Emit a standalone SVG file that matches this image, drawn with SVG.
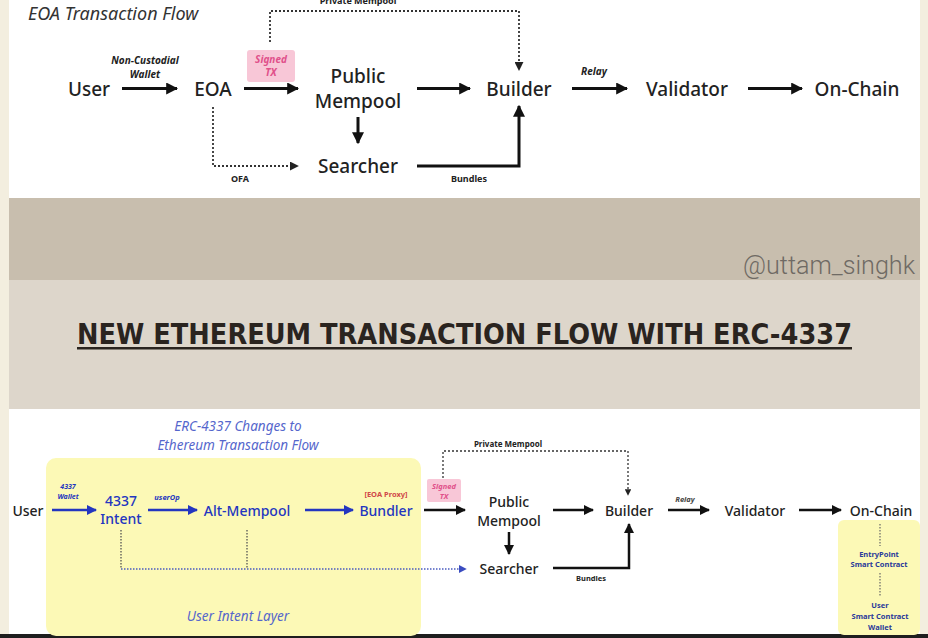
<svg xmlns="http://www.w3.org/2000/svg" width="928" height="638" viewBox="0 0 928 638">
<defs>
<marker id="ah" viewBox="0 0 10 10" refX="9" refY="5" markerWidth="4" markerHeight="4" orient="auto" markerUnits="strokeWidth"><path d="M0,0 L10,5 L0,10 z" fill="#111"/></marker>
<marker id="ahs" viewBox="0 0 10 10" refX="9" refY="5" markerWidth="5" markerHeight="5" orient="auto" markerUnits="strokeWidth"><path d="M0,0 L10,5 L0,10 z" fill="#222"/></marker>
<marker id="ahb" viewBox="0 0 10 10" refX="9" refY="5" markerWidth="4" markerHeight="4" orient="auto" markerUnits="strokeWidth"><path d="M0,0 L10,5 L0,10 z" fill="#2336c0"/></marker>
<marker id="ahbs" viewBox="0 0 10 10" refX="9" refY="5" markerWidth="6" markerHeight="6" orient="auto" markerUnits="strokeWidth"><path d="M0,0 L10,5 L0,10 z" fill="#3a4cc0"/></marker>
</defs>
<style>
.n{font-family:"Noto Sans","Open Sans",sans-serif;font-weight:500;fill:#222;text-anchor:middle}
.big{font-size:19px}
.sm{font-size:14px}
.lab{font-family:"Noto Sans",sans-serif;font-weight:700;fill:#222;text-anchor:middle}
.it{font-style:italic}
.blue{fill:#2336c0}
.a{stroke:#111;fill:none}
.d{stroke:#333;fill:none;stroke-dasharray:2 2}
</style>
<!-- backgrounds -->
<rect x="0" y="0" width="928" height="638" fill="#f3eedf"/>
<rect x="9" y="0" width="911" height="198" fill="#ffffff"/>
<rect x="9" y="198" width="911" height="82" fill="#c8beae"/>
<rect x="9" y="280" width="911" height="129" fill="#ddd6cb"/>
<rect x="9" y="409" width="911" height="226" fill="#ffffff"/>
<rect x="0" y="634" width="928" height="4" fill="#1e1e1e"/>

<!-- TOP: EOA Transaction Flow -->
<text x="28" y="20" font-family="Noto Sans,sans-serif" font-style="italic" font-size="18" fill="#333">EOA Transaction Flow</text>
<g id="connectors-top">
<line class="a" x1="122" y1="88.5" x2="177" y2="88.5" stroke-width="3" marker-end="url(#ah)"/>
<line class="a" x1="244" y1="88.5" x2="298" y2="88.5" stroke-width="3" marker-end="url(#ah)"/>
<line class="a" x1="417" y1="88.5" x2="470" y2="88.5" stroke-width="3" marker-end="url(#ah)"/>
<line class="a" x1="572" y1="88.5" x2="627" y2="88.5" stroke-width="3" marker-end="url(#ah)"/>
<line class="a" x1="748" y1="88.5" x2="802" y2="88.5" stroke-width="3" marker-end="url(#ah)"/>
<line class="a" x1="358" y1="117" x2="358" y2="143" stroke-width="3" marker-end="url(#ah)"/>
<polyline class="a" points="417,166 519,166 519,106" stroke-width="3" marker-end="url(#ah)"/>
<polyline class="d" points="270,42 270,11 519,11 519,70" stroke-width="1.8" marker-end="url(#ahs)"/>
<polyline class="d" points="213,107 213,166 298,166" stroke-width="1.8" marker-end="url(#ahs)"/>
<text class="lab it" x="145" y="64" font-size="10">Non-Custodial</text>
<text class="lab it" x="145" y="78" font-size="10">Wallet</text>
<text class="lab" x="358" y="4" font-size="9">Private Mempool</text>
<text class="lab" x="240" y="182" font-size="9">OFA</text>
<text class="lab" x="469" y="182" font-size="9">Bundles</text>
<text class="lab it" x="594" y="75" font-size="10">Relay</text>
</g>
<g id="t-signed">
<rect x="247" y="50" width="48" height="32" rx="3" fill="#f8c7d7"/>
<text class="lab it" x="271" y="63" font-size="10" style="fill:#e0508a">Signed</text>
<text class="lab it" x="271" y="76" font-size="10" style="fill:#e0508a">TX</text>
</g>
<g id="t-user"><text class="n big" x="89" y="96">User</text></g>
<g id="t-eoa"><text class="n big" x="213" y="96">EOA</text></g>
<g id="t-public"><text class="n big" x="358" y="83">Public</text><text class="n big" x="358" y="107.5">Mempool</text></g>
<g id="t-searcher"><text class="n big" x="358" y="173">Searcher</text></g>
<g id="t-builder"><text class="n big" x="519" y="96">Builder</text></g>
<g id="t-validator"><text class="n big" x="687" y="96">Validator</text></g>
<g id="t-onchain"><text class="n big" x="857" y="96">On-Chain</text></g>

<!-- Band -->
<text x="915" y="274" text-anchor="end" font-family="Roboto,sans-serif" font-weight="300" font-size="25" fill="#6f6a64" textLength="172" lengthAdjust="spacingAndGlyphs">@uttam_singhk</text>
<text x="77" y="344" font-family="DejaVu Sans,sans-serif" font-weight="700" font-size="28" fill="#2a241f" textLength="775" lengthAdjust="spacingAndGlyphs">NEW ETHEREUM TRANSACTION FLOW WITH ERC-4337</text>
<rect x="77" y="347" width="775" height="2.5" fill="#2a241f"/>

<!-- BOTTOM -->
<text x="238" y="431" font-family="Noto Sans,sans-serif" font-style="italic" font-size="13.5" fill="#5566cc" text-anchor="middle">ERC-4337 Changes to</text>
<text x="238" y="450" font-family="Noto Sans,sans-serif" font-style="italic" font-size="13.5" fill="#5566cc" text-anchor="middle">Ethereum Transaction Flow</text>
<g id="b-intent-layer">
<rect x="46" y="458" width="375" height="178" rx="10" fill="#fcf9b6"/>
<text x="238" y="621" font-family="Noto Sans,sans-serif" font-style="italic" font-size="13.5" fill="#5566cc" text-anchor="middle">User Intent Layer</text>
</g>
<g id="b-onchain-box">
<rect x="838" y="520" width="82" height="115" rx="6" fill="#fcf9b6"/>
</g>
<g id="connectors-bottom">
<line x1="52" y1="510" x2="96" y2="510" stroke="#2336c0" stroke-width="2.5" marker-end="url(#ahb)"/>
<line x1="148" y1="510" x2="197" y2="510" stroke="#2336c0" stroke-width="2.5" marker-end="url(#ahb)"/>
<line x1="305" y1="510" x2="353" y2="510" stroke="#2336c0" stroke-width="2.5" marker-end="url(#ahb)"/>
<line class="a" x1="424" y1="510" x2="465" y2="510" stroke-width="2.5" marker-end="url(#ah)"/>
<line class="a" x1="553" y1="510" x2="593" y2="510" stroke-width="2.5" marker-end="url(#ah)"/>
<line class="a" x1="668" y1="510" x2="709" y2="510" stroke-width="2.5" marker-end="url(#ah)"/>
<line class="a" x1="799" y1="510" x2="841" y2="510" stroke-width="2.5" marker-end="url(#ah)"/>
<line class="a" x1="509" y1="532" x2="509" y2="554" stroke-width="2.5" marker-end="url(#ah)"/>
<polyline class="a" points="553,568 629,568 629,524" stroke-width="2.5" marker-end="url(#ah)"/>
<polyline class="d" points="443,478 443,451 628,451 628,495" stroke="#555" stroke-width="1.3" marker-end="url(#ahs)"/>
<polyline points="121,530 121,569" fill="none" stroke="#555" stroke-width="1.3" stroke-dasharray="1.5 1.5"/>
<polyline points="247,530 247,569" fill="none" stroke="#555" stroke-width="1.3" stroke-dasharray="1.5 1.5"/>
<polyline points="121,569 466,569" fill="none" stroke="#4a5cc0" stroke-width="1.3" stroke-dasharray="1.5 1.5" marker-end="url(#ahbs)"/>
<line x1="880" y1="524" x2="880" y2="546" stroke="#666" stroke-width="1.2" stroke-dasharray="1.5 1.5"/>
<line x1="880" y1="573" x2="880" y2="596" stroke="#666" stroke-width="1.2" stroke-dasharray="1.5 1.5"/>
<text class="lab it blue" x="68" y="489" font-size="7">4337</text>
<text class="lab it blue" x="68" y="499" font-size="7">Wallet</text>
<text class="lab it blue" x="167" y="500" font-size="7.5">userOp</text>
<text class="lab" x="386" y="497" font-size="7.5" style="fill:#d04848">[EOA Proxy]</text>
<text class="lab" x="508" y="447" font-size="8">Private Mempool</text>
<text class="lab" x="591" y="581" font-size="7.5">Bundles</text>
<text class="lab it" x="685" y="502" font-size="7.5" style="fill:#444">Relay</text>
</g>
<g id="b-signed">
<rect x="427" y="479" width="34" height="23" rx="2" fill="#f8c7d7"/>
<text class="lab it" x="444" y="489" font-size="7.5" style="fill:#e0508a">Signed</text>
<text class="lab it" x="444" y="499" font-size="7.5" style="fill:#e0508a">TX</text>
</g>
<g id="b-user"><text class="n sm" x="28" y="516">User</text></g>
<g id="b-intent"><text class="n sm blue" x="121" y="506">4337</text><text class="n sm blue" x="121" y="523.5">Intent</text></g>
<g id="b-altmempool"><text class="n sm blue" x="247" y="516">Alt-Mempool</text></g>
<g id="b-bundler"><text class="n sm blue" x="386" y="516">Bundler</text></g>
<g id="b-public"><text class="n sm" x="509" y="507">Public</text><text class="n sm" x="509" y="525.5">Mempool</text></g>
<g id="b-searcher"><text class="n sm" x="509" y="574">Searcher</text></g>
<g id="b-builder"><text class="n sm" x="629" y="516">Builder</text></g>
<g id="b-validator"><text class="n sm" x="755" y="516">Validator</text></g>
<g id="b-onchain"><text class="n sm" x="881" y="516">On-Chain</text></g>
<g id="b-entrypoint"><text class="lab" x="879" y="557" font-size="7.5" style="fill:#2a3a9a">EntryPoint</text><text class="lab" x="879" y="567" font-size="7.5" style="fill:#2a3a9a">Smart Contract</text></g>
<g id="b-scwallet"><text class="lab" x="880" y="608" font-size="7.5" style="fill:#2a3a9a">User</text><text class="lab" x="880" y="619" font-size="7.5" style="fill:#2a3a9a">Smart Contract</text><text class="lab" x="880" y="630" font-size="7.5" style="fill:#2a3a9a">Wallet</text></g>
</svg>
